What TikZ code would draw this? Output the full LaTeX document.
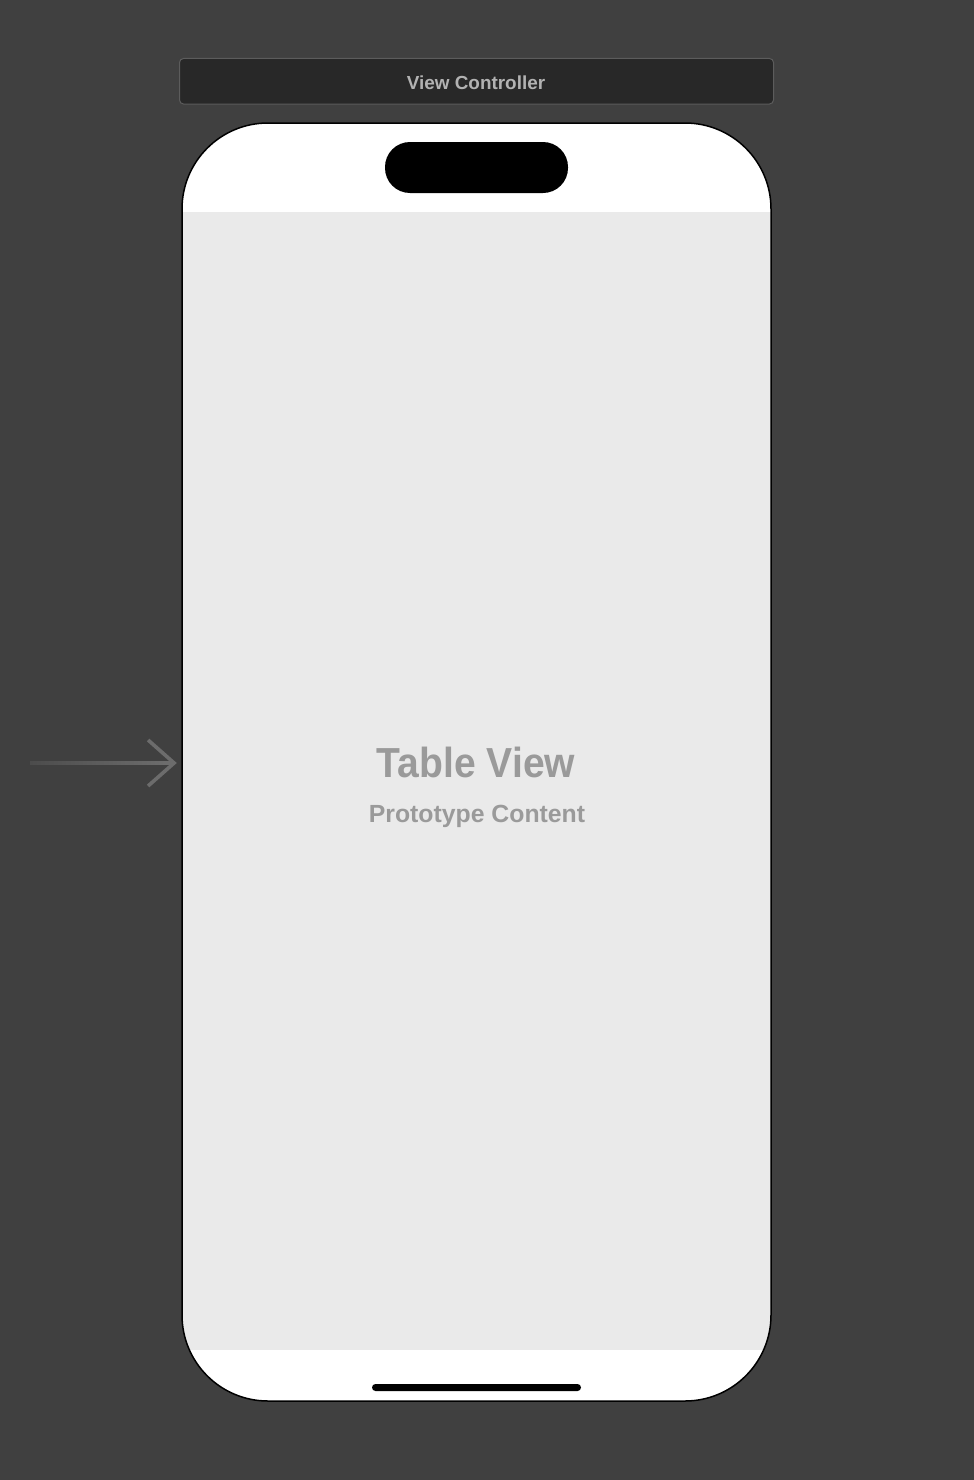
\documentclass[tikz,border=0pt]{standalone}
\usepackage{fontspec}
\setmainfont{Liberation Sans}
\usetikzlibrary{arrows.meta}
\definecolor{bg}{HTML}{404040}
\definecolor{barfill}{HTML}{282828}
\definecolor{barline}{HTML}{5C5C5C}
\definecolor{bartext}{HTML}{B2B2B2}
\definecolor{tablegray}{HTML}{EAEAEA}
\definecolor{labelgray}{HTML}{9A9A9A}
\definecolor{arrowgray}{HTML}{6C6C6C}
\definecolor{arrowdark}{HTML}{4C4C4C}
\tikzset{
  titlebar/.style={draw=barline, line width=1pt, fill=barfill, rounded corners=4pt},
  phonebody/.style={draw=black, line width=1.5pt, rounded corners=86pt},
  island/.style={fill=black, rounded corners=25pt},
  homebar/.style={fill=black, rounded corners=3.5pt},
  entryarrow/.style={draw=arrowgray, line width=3.2pt, -{Straight Barb[length=26pt,width=46pt,line width=3.6pt]}, shorten >=5pt},
  bigtitle/.style={text=labelgray, font=\bfseries\fontsize{42}{46}\selectfont, anchor=base},
  subtitle/.style={text=labelgray, font=\bfseries\fontsize{24.8}{28}\selectfont, anchor=base},
  bartitle/.style={text=bartext, font=\bfseries\fontsize{18.9}{22}\selectfont, anchor=base}
}
\begin{document}
\begin{tikzpicture}[x=1pt,y=-1pt]
\fill[bg] (0,0) rectangle (974,1480);
\useasboundingbox (0,0) rectangle (974,1480);
% title bar
\draw[titlebar] (179.5,58.5) rectangle (773.5,104);
\node[bartitle] (vc) at (476,89) {View Controller};
% phone
\fill[white, rounded corners=86pt] (182,123) rectangle (771,1401);
\begin{scope}
  \clip[rounded corners=86pt] (182,123) rectangle (771,1401);
  \fill[tablegray] (182,212) rectangle (771,1350);
\end{scope}
\node[draw=none, minimum width=589pt, minimum height=1278pt, inner sep=0pt] (phone) at (476.5,762) {};
\draw[phonebody] (182,123) rectangle (771,1401);
\fill[island] (385,142) rectangle (568,193);
\fill[homebar] (372,1384) rectangle (581,1391);
% labels
\node[bigtitle] (tv) at (476,777) {\scalebox{0.93}[1]{Table View}};
\node[subtitle] (pc) at (477,822) {Prototype Content};
% entry arrow
\coordinate (start) at (30,763);
\draw[entryarrow] (start) -- (phone.west |- start);
\shade[left color=arrowdark, right color=arrowgray] (30,761.4) rectangle (165,764.6);
\end{tikzpicture}
\end{document}
